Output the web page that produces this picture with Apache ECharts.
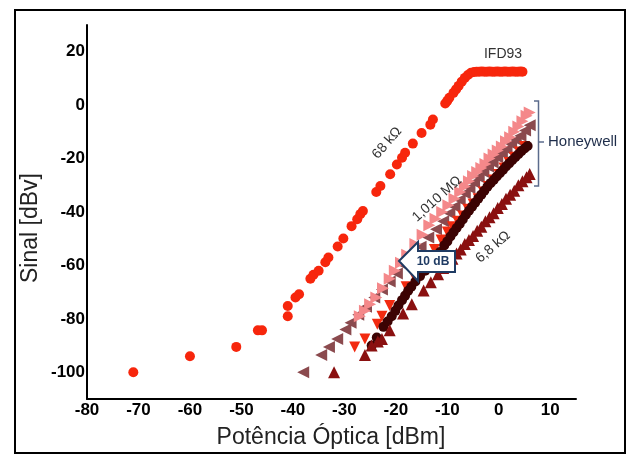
<!DOCTYPE html>
<html>
<head>
<meta charset="utf-8">
<script src="https://cdn.jsdelivr.net/npm/echarts@6/dist/echarts.min.js"></script>
<style>
html,body{margin:0;padding:0;background:#fff;}
#chart{width:633px;height:455px;}
</style>
</head>
<body>
<div id="chart"></div>
<script>
// ---- Axis ticks ----
const xTicks = [-80, -70, -60, -50, -40, -30, -20, -10, 0, 10];
const yTicks = [-100, -80, -60, -40, -20, 0, 20];

// ---- IFD93 (68 kΩ) red circles ----
const ifdX = [-71, -60, -51, -46.8, -46, -41, -41, -39.5, -38.8, -36.6, -36, -35, -33.7, -33.1, -31.3, -30.2, -28.6, -27.5, -26.9, -26.4, -23.8, -23, -21.1, -19.8, -18.8, -18.2, -16.7, -15, -13.3, -12.8, -10.4, -10, -9.6, -8.8, -8.3, -7.8, -7.2, -6.6, -6, -5.4, -4.8, -4.3, -3.8, -3.3, -2.8, -2.3, -1.8, -1.3, -0.8, -0.3, 0.2, 0.7, 1.2, 1.7, 2.2, 2.7, 3.2, 3.7, 4.2, 4.6];
const ifdY = [-100, -94, -90.5, -84.3, -84.3, -79, -75.2, -72, -70.8, -65, -63.5, -62, -58.8, -57, -52.9, -49.9, -45.3, -42.7, -40.8, -39.6, -32.5, -30.3, -25.9, -22.2, -19.7, -17.8, -14.4, -10.4, -7.3, -5.4, 0.6, 1.6, 2.8, 4.6, 5.9, 7.2, 8.8, 10.2, 11.3, 12.1, 12.4, 12.5, 12.5, 12.6, 12.5, 12.5, 12.6, 12.5, 12.5, 12.6, 12.5, 12.5, 12.6, 12.5, 12.5, 12.6, 12.5, 12.5, 12.6, 12.5];

// ---- Honeywell 1,010 MΩ (pink, right-pointing triangles) ----
const pinkX = [-27, -26, -25, -23.8, -22.5, -21.2, -20.2, -19, -17.8, -16.2, -14.8, -13.5, -12.3, -11, -9.8, -8.6, -7.5, -6.6, -5.8, -5, -4.2, -3.4, -2.6, -1.8, -1, -0.2, 0.6, 1.4, 2.2, 3, 3.8, 4.6, 5.4, 6];
const pinkY = [-79, -77, -74.5, -72, -68.5, -65, -62, -59, -56, -52, -48.5, -45, -42.5, -40, -37.5, -35, -32.5, -30.5, -28.5, -26.5, -25, -23.5, -22, -20, -18.5, -17, -15.5, -13.5, -12, -10, -8, -6, -4, -2.8];

// ---- Honeywell (mauve, left-pointing triangles) ----
const mauveX = [-38, -34.5, -33, -31.4, -29.8, -28.8, -27.3, -25.8, -24.2, -22.7, -21.2, -19.8, -18.3, -16.8, -15.2, -13.7, -12.2, -10.8, -9.6, -8.6, -7.6, -6.6, -5.7, -4.8, -3.9, -3, -2.1, -1.2, -0.3, 0.6, 1.5, 2.4, 3.3, 4.2, 5.1, 6];
const mauveY = [-100, -93.5, -90.5, -87.5, -84, -81.5, -78.5, -75.5, -72, -69, -66, -63, -60, -56.5, -53, -49.5, -46.5, -43.5, -40.5, -38, -35.5, -33, -31, -29, -27, -25, -23, -21.5, -19.5, -18, -16.5, -14.5, -13, -11.5, -9.5, -7.5];

// ---- Honeywell (red, down-pointing triangles) ----
const redX = [-28, -26, -23.6, -22.7, -21.2, -18, -16.5, -15, -13.8, -12.5, -11.2, -10, -9, -8, -7, -6, -5, -4, -3, -2, -1, 0, 1, 2, 3, 4, 5];
const redY = [-90.5, -87.5, -82, -79, -75, -68, -64, -60, -57, -54, -50.5, -47.5, -45.5, -43.5, -41.5, -39, -37, -35, -32.5, -30.5, -28, -26, -23.5, -21.5, -19.5, -17.5, -15.5];

// ---- Honeywell (dark maroon circles) ----
const darkX = [-24.7, -23.7, -22.4, -21.6, -20.8, -20.1, -19.5, -18.8, -18.2, -17.6, -17, -16.2, -15.3, -14.3, -13.3, -12.4, -11.4, -10.6, -10, -9.4, -8.8, -8.2, -7.6, -7, -6.4, -5.8, -5.2, -4.6, -4, -3.4, -2.8, -2.2, -1.6, -1, -0.4, 0.2, 0.8, 1.4, 2, 2.6, 3.2, 3.8, 4.4, 5, 5.6];
const darkY = [-90, -87, -83, -81, -79, -77, -75, -73, -71.3, -69.5, -68, -66, -64, -62, -60, -57.5, -55, -52.5, -51, -49.2, -47.6, -46, -44.5, -42.8, -41, -39.5, -38, -36.5, -35, -33.5, -32, -30.5, -29.2, -28, -26.7, -25.5, -24.3, -23, -21.8, -20.6, -19.5, -18.4, -17.2, -16.2, -15.3];

// ---- Honeywell 6,8 kΩ (dark red, up-pointing triangles) ----
const triX = [-32, -26, -24.7, -23.5, -22.7, -21.2, -18.6, -16.9, -14.6, -13.2, -11.8, -10.8, -9.8, -9, -8.2, -7.4, -6.6, -5.8, -5, -4.2, -3.4, -2.6, -1.8, -1, -0.2, 0.6, 1.4, 2.2, 3, 3.8, 4.6, 5.4, 6];
const triY = [-100, -93.5, -90, -88.5, -87.5, -84.3, -78, -74.5, -69.4, -66.3, -63.3, -61, -59, -57.5, -55.5, -54, -52, -50.5, -49, -47, -45.5, -43.5, -42, -40.5, -38.5, -37, -35, -33.5, -32, -30, -28.5, -27, -25.8];

function pairs(xs, ys) { return xs.map((x, i) => [x, ys[i]]); }

const FONT = '"Liberation Sans", Arial, sans-serif';
const chart = echarts.init(document.getElementById('chart'), null, { renderer: 'canvas' });

function mk(name, xs, ys, symbol, size, rot, color, z) {
  return {
    name: name, type: 'scatter', data: pairs(xs, ys),
    symbol: symbol, symbolSize: size, symbolRotate: rot,
    itemStyle: { color: color, opacity: 1 }, z: z, silent: true, animation: false
  };
}

const option = {
  animation: false,
  backgroundColor: '#ffffff',
  grid: { left: 87, right: 57, top: 25, bottom: 56, containLabel: false },
  xAxis: {
    type: 'value', min: -80, max: 15, interval: 10,
    axisLine: { show: true, onZero: false, lineStyle: { color: '#000', width: 2 } },
    axisTick: { show: false }, splitLine: { show: false },
    axisLabel: {
      margin: 3, color: '#000', fontFamily: FONT, fontWeight: 'bold', fontSize: 17,
      formatter: function (v) { return xTicks.indexOf(v) >= 0 ? String(v) : ''; }
    }
  },
  yAxis: {
    type: 'value', min: -110, max: 30, interval: 10,
    axisLine: { show: true, onZero: false, lineStyle: { color: '#000', width: 2 } },
    axisTick: { show: false }, splitLine: { show: false },
    axisLabel: {
      margin: 2, color: '#000', fontFamily: FONT, fontWeight: 'bold', fontSize: 17,
      formatter: function (v) { return yTicks.indexOf(v) >= 0 ? String(v) : ''; }
    }
  },
  series: [
    mk('Honeywell mauve', mauveX, mauveY, 'triangle', 12, 90, '#8b4a4e', 2),
    mk('Honeywell 1,010 MΩ', pinkX, pinkY, 'triangle', 12, -90, '#f4888a', 3),
    mk('Honeywell red', redX, redY, 'triangle', 11, 180, '#f22a10', 4),
    mk('Honeywell dark', darkX, darkY, 'circle', 10, 0, '#3c0303', 5),
    mk('Honeywell 6,8 kΩ', triX, triY, 'triangle', 12, 0, '#8a1010', 6),
    mk('IFD93 68 kΩ', ifdX, ifdY, 'circle', 10, 0, '#f7260c', 7)
  ],
  graphic: [
    { type: 'rect', z: 100, shape: { x: 15, y: 10, width: 610, height: 443 },
      style: { fill: 'none', stroke: '#000', lineWidth: 2 }, silent: true },
    { type: 'text', z: 100, x: 31, y: 228, rotation: Math.PI / 2,
      style: { text: 'Sinal [dBv]', x: 0, y: 0, align: 'center', verticalAlign: 'middle',
               font: '23px ' + FONT, fill: '#222' } },
    { type: 'text', z: 100, x: 331, y: 438,
      style: { text: 'Potência Óptica [dBm]', x: 0, y: 0, align: 'center', verticalAlign: 'middle',
               font: '23px ' + FONT, fill: '#222' } },
    { type: 'text', z: 100, x: 503, y: 54,
      style: { text: 'IFD93', x: 0, y: 0, align: 'center', verticalAlign: 'middle',
               font: '14px ' + FONT, fill: '#333' } },
    { type: 'text', z: 100, x: 387, y: 143, rotation: 49 * Math.PI / 180,
      style: { text: '68 kΩ', x: 0, y: 0, align: 'center', verticalAlign: 'middle',
               font: '14px ' + FONT, fill: '#333' } },
    { type: 'text', z: 100, x: 437, y: 199, rotation: 42 * Math.PI / 180,
      style: { text: '1,010 MΩ', x: 0, y: 0, align: 'center', verticalAlign: 'middle',
               font: '14px ' + FONT, fill: '#333' } },
    { type: 'text', z: 100, x: 493, y: 247, rotation: 41 * Math.PI / 180,
      style: { text: '6,8 kΩ', x: 0, y: 0, align: 'center', verticalAlign: 'middle',
               font: '14px ' + FONT, fill: '#333' } },
    { type: 'polyline', z: 100,
      shape: { points: [[534, 101], [538.5, 101], [538.5, 186], [534, 186]] },
      style: { stroke: '#5b6b8c', lineWidth: 1.5, fill: 'none' } },
    { type: 'line', z: 100, shape: { x1: 539, y1: 142, x2: 544, y2: 142 },
      style: { stroke: '#5b6b8c', lineWidth: 1.5 } },
    { type: 'text', z: 100, x: 548, y: 142,
      style: { text: 'Honeywell', x: 0, y: 0, align: 'left', verticalAlign: 'middle',
               font: '15px ' + FONT, fill: '#1e2d4a' } },
    { type: 'polygon', z: 110,
      shape: { points: [[399, 261], [418, 242], [418, 251], [455, 251], [455, 272], [418, 272], [418, 281]] },
      style: { fill: '#ffffff', stroke: '#1f3b63', lineWidth: 2 } },
    { type: 'text', z: 111, x: 433, y: 262,
      style: { text: '10 dB', x: 0, y: 0, align: 'center', verticalAlign: 'middle',
               font: 'bold 12px ' + FONT, fill: '#1f3b63' } }
  ]
};
chart.setOption(option);
</script>
</body>
</html>
